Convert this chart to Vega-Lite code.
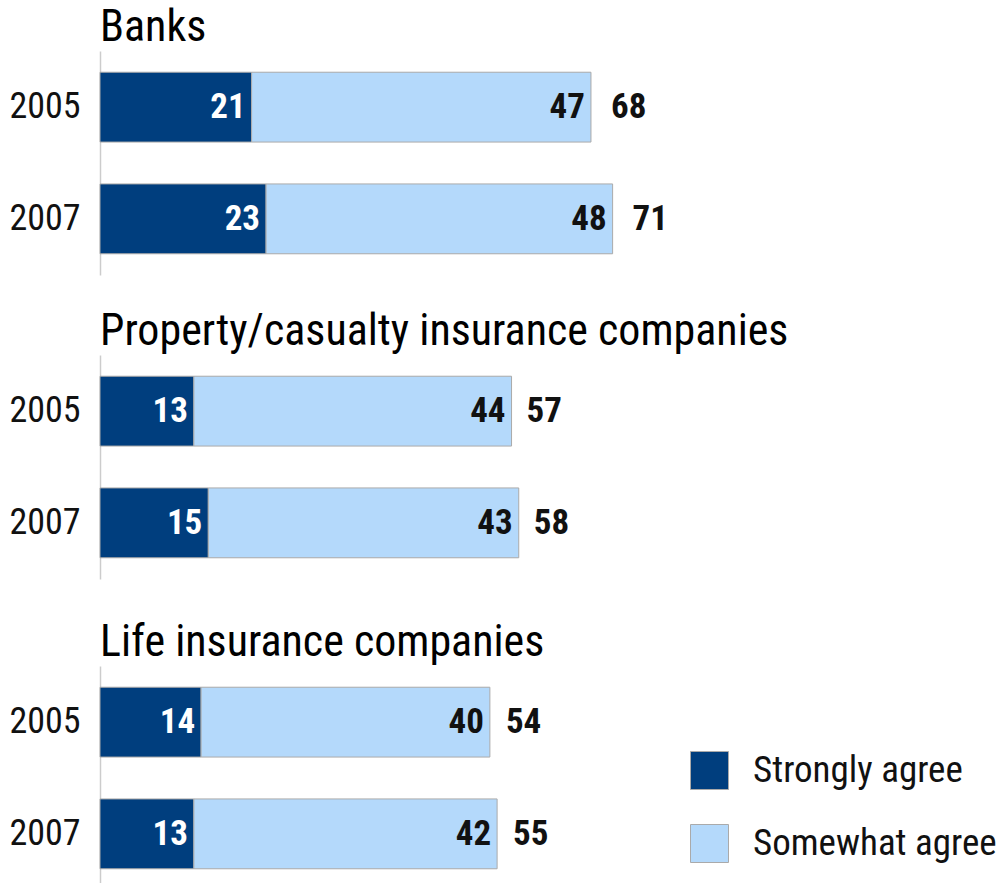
{
  "$schema": "https://vega.github.io/schema/vega-lite/v6.json",
  "padding": {"left": 8, "top": 6, "right": 0, "bottom": 0},
  "config": {
    "font": "Roboto Condensed, Roboto, sans-serif",
    "view": {"stroke": null},
    "concat": {"spacing": 35},
    "title": {"anchor": "start", "frame": "group", "fontSize": 44, "fontWeight": "normal", "color": "#000", "offset": 1},
    "axisY": {"labelFontSize": 36, "labelColor": "#111", "ticks": false, "domainColor": "#cccccc", "domainWidth": 1.5, "labelPadding": 20, "title": null, "minExtent": 90, "maxExtent": 90},
    "axisX": {"disable": true}
  },
  "datasets": {
    "d": [
      {"group": "Banks", "year": "2005", "type": "Strongly agree", "value": 21},
      {"group": "Banks", "year": "2005", "type": "Somewhat agree", "value": 47},
      {"group": "Banks", "year": "2007", "type": "Strongly agree", "value": 23},
      {"group": "Banks", "year": "2007", "type": "Somewhat agree", "value": 48},
      {"group": "Property", "year": "2005", "type": "Strongly agree", "value": 13},
      {"group": "Property", "year": "2005", "type": "Somewhat agree", "value": 44},
      {"group": "Property", "year": "2007", "type": "Strongly agree", "value": 15},
      {"group": "Property", "year": "2007", "type": "Somewhat agree", "value": 43},
      {"group": "Life", "year": "2005", "type": "Strongly agree", "value": 14},
      {"group": "Life", "year": "2005", "type": "Somewhat agree", "value": 40},
      {"group": "Life", "year": "2007", "type": "Strongly agree", "value": 13},
      {"group": "Life", "year": "2007", "type": "Somewhat agree", "value": 42}
    ]
  },
  "vconcat": [
    {
      "title": "Banks",
      "width": 722, "height": 224,
      "data": {"name": "d"},
      "transform": [
        {"filter": "datum.group === 'Banks'"},
        {"stack": "value", "groupby": ["year"], "sort": [{"field": "type", "order": "descending"}], "as": ["start", "end"]},
        {"joinaggregate": [{"op": "sum", "field": "value", "as": "total"}], "groupby": ["year"]}
      ],
      "encoding": {
        "y": {"field": "year", "type": "nominal", "scale": {"paddingInner": 0.375, "paddingOuter": 0.19}}
      },
      "layer": [
        {
          "mark": {"type": "bar", "stroke": "#aaaaaa", "strokeWidth": 1},
          "encoding": {
            "x": {"field": "start", "type": "quantitative", "scale": {"domain": [0, 100]}},
            "x2": {"field": "end"},
            "color": {"field": "type", "type": "nominal", "scale": {"domain": ["Strongly agree", "Somewhat agree"], "range": ["#003e7e", "#b4d9fb"]},
              "legend": {"title": null, "orient": "none", "legendX": 590, "legendY": 700, "symbolType": "square", "symbolSize": 1444, "symbolStrokeColor": "#aaaaaa", "symbolStrokeWidth": 1, "labelFontSize": 37, "labelColor": "#111", "labelOffset": 24, "labelLimit": 400, "rowPadding": 30, "symbolOpacity": 1}}
          }
        },
        {
          "mark": {"type": "text", "align": "right", "dx": -6, "fontSize": 35, "fontWeight": "bold"},
          "encoding": {
            "x": {"field": "end", "type": "quantitative"},
            "text": {"field": "value"},
            "color": {"condition": {"test": "datum.type === 'Strongly agree'", "value": "white"}, "value": "#111"}
          }
        },
        {
          "transform": [{"filter": "datum.type === 'Somewhat agree'"}],
          "mark": {"type": "text", "align": "left", "dx": 20, "fontSize": 35, "fontWeight": "bold", "color": "#111"},
          "encoding": {
            "x": {"field": "total", "type": "quantitative"},
            "text": {"field": "total"}
          }
        }
      ]
    },
    {
      "spacing": 42,
      "vconcat": [
        {
          "title": "Property/casualty insurance companies",
          "width": 722, "height": 224,
          "data": {"name": "d"},
          "transform": [
            {"filter": "datum.group === 'Property'"},
            {"stack": "value", "groupby": ["year"], "sort": [{"field": "type", "order": "descending"}], "as": ["start", "end"]},
            {"joinaggregate": [{"op": "sum", "field": "value", "as": "total"}], "groupby": ["year"]}
          ],
          "encoding": {
            "y": {"field": "year", "type": "nominal", "scale": {"paddingInner": 0.375, "paddingOuter": 0.19}}
          },
          "layer": [
            {
              "mark": {"type": "bar", "stroke": "#aaaaaa", "strokeWidth": 1},
              "encoding": {
                "x": {"field": "start", "type": "quantitative", "scale": {"domain": [0, 100]}},
                "x2": {"field": "end"},
                "color": {"field": "type", "type": "nominal", "scale": {"domain": ["Strongly agree", "Somewhat agree"], "range": ["#003e7e", "#b4d9fb"]}}
              }
            },
            {
              "mark": {"type": "text", "align": "right", "dx": -6, "fontSize": 35, "fontWeight": "bold"},
              "encoding": {
                "x": {"field": "end", "type": "quantitative"},
                "text": {"field": "value"},
                "color": {"condition": {"test": "datum.type === 'Strongly agree'", "value": "white"}, "value": "#111"}
              }
            },
            {
              "transform": [{"filter": "datum.type === 'Somewhat agree'"}],
              "mark": {"type": "text", "align": "left", "dx": 15, "fontSize": 35, "fontWeight": "bold", "color": "#111"},
              "encoding": {
                "x": {"field": "total", "type": "quantitative"},
                "text": {"field": "total"}
              }
            }
          ]
        },
        {
          "title": "Life insurance companies",
          "width": 722, "height": 224,
          "data": {"name": "d"},
          "transform": [
            {"filter": "datum.group === 'Life'"},
            {"stack": "value", "groupby": ["year"], "sort": [{"field": "type", "order": "descending"}], "as": ["start", "end"]},
            {"joinaggregate": [{"op": "sum", "field": "value", "as": "total"}], "groupby": ["year"]}
          ],
          "encoding": {
            "y": {"field": "year", "type": "nominal", "scale": {"paddingInner": 0.375, "paddingOuter": 0.19}}
          },
          "layer": [
            {
              "mark": {"type": "bar", "stroke": "#aaaaaa", "strokeWidth": 1},
              "encoding": {
                "x": {"field": "start", "type": "quantitative", "scale": {"domain": [0, 100]}},
                "x2": {"field": "end"},
                "color": {"field": "type", "type": "nominal", "scale": {"domain": ["Strongly agree", "Somewhat agree"], "range": ["#003e7e", "#b4d9fb"]}}
              }
            },
            {
              "mark": {"type": "text", "align": "right", "dx": -6, "fontSize": 35, "fontWeight": "bold"},
              "encoding": {
                "x": {"field": "end", "type": "quantitative"},
                "text": {"field": "value"},
                "color": {"condition": {"test": "datum.type === 'Strongly agree'", "value": "white"}, "value": "#111"}
              }
            },
            {
              "transform": [{"filter": "datum.type === 'Somewhat agree'"}],
              "mark": {"type": "text", "align": "left", "dx": 16, "fontSize": 35, "fontWeight": "bold", "color": "#111"},
              "encoding": {
                "x": {"field": "total", "type": "quantitative"},
                "text": {"field": "total"}
              }
            }
          ]
        }
      ]
    }
  ]
}
